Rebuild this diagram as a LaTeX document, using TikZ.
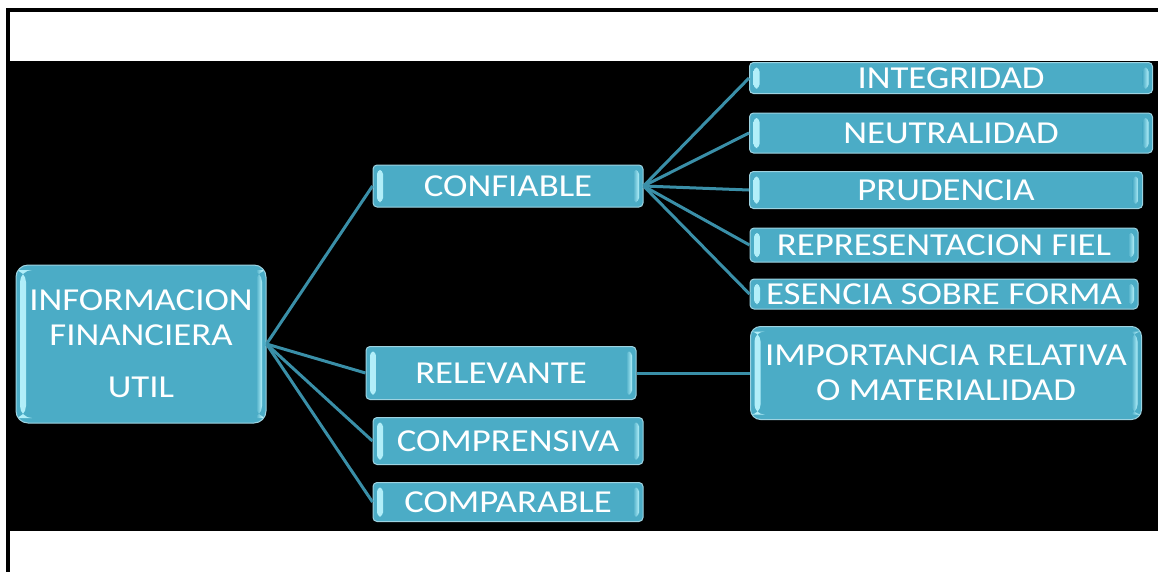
\documentclass[tikz,border=0pt]{standalone}
\usepackage{fontspec}
\setmainfont{Carlito}[FakeStretch=1.15]
\usepackage{tikz}
\definecolor{qcbox}{HTML}{4BACC6}
\definecolor{qcedge}{HTML}{9ED3E1}
\definecolor{qcbar}{HTML}{B4F0FA}
\definecolor{qcline}{HTML}{3A8FA8}
\tikzset{qcbox/.style={draw=qcedge,line width=1pt,fill=qcbox,rounded corners=4pt,
    text=white,inner sep=0pt,align=center,
    font=\fontsize{32}{35}\selectfont,
    path picture={
      \shade[left color=qcbar,right color=qcbox]
        ([xshift=4pt,yshift=5pt]path picture bounding box.south west) rectangle
        ([xshift=10pt,yshift=-5pt]path picture bounding box.north west);
      \shade[left color=qcbox,right color=qcbar]
        ([xshift=-10pt,yshift=5pt]path picture bounding box.south east) rectangle
        ([xshift=-4pt,yshift=-5pt]path picture bounding box.north east);
    }},
  qcline/.style={draw=qcline,line width=3pt}}

\begin{document}
\begin{tikzpicture}[x=1pt,y=-1pt]
  \useasboundingbox (0,0) rectangle (1158,571);
  \clip (0,0) rectangle (1158,571);
  \draw[line width=4pt] (8,1200) |- (1300,9.6);
  \fill[black] (10,61) rectangle (1158,531);

  \node [qcbox,rounded corners=12pt,minimum width=250,minimum height=158] (inf) at (141,344)
    {INFORMACION\\FINANCIERA\\[17pt]UTIL};

  \node [qcbox,minimum width=270,minimum height=42] (conf)  at (508,186) {CONFIABLE};
  \node [qcbox,minimum width=270,minimum height=53] (rel)   at (501,373) {RELEVANTE};
  \node [qcbox,minimum width=270,minimum height=47] (compr) at (508,441) {COMPRENSIVA};
  \node [qcbox,minimum width=270,minimum height=39] (compa) at (508,502) {COMPARABLE};

  \node [qcbox,minimum width=403,minimum height=31] (integ) at (951,78)  {INTEGRIDAD};
  \node [qcbox,minimum width=403,minimum height=40] (neut)  at (951,133) {NEUTRALIDAD};
  \node [qcbox,minimum width=393,minimum height=37] (prud)  at (946,190) {PRUDENCIA};
  \node [qcbox,minimum width=388,minimum height=34] (repr)  at (944,245) {REPRESENTACION FIEL};
  \node [qcbox,minimum width=388,minimum height=30] (esen)  at (944,294) {ESENCIA SOBRE FORMA};
  \node [qcbox,rounded corners=10pt,minimum width=391,minimum height=93] (imp) at (946,373)
    {IMPORTANCIA RELATIVA\\O MATERIALIDAD};

  \foreach \n in {conf,rel,compr,compa}
    \draw [qcline] (inf.east) -- (\n.west);
  \foreach \n in {integ,neut,prud,repr,esen}
    \draw [qcline] (conf.east) -- (\n.west);
  \draw [qcline] (rel.east) -- (imp.west);
\end{tikzpicture}
\end{document}
